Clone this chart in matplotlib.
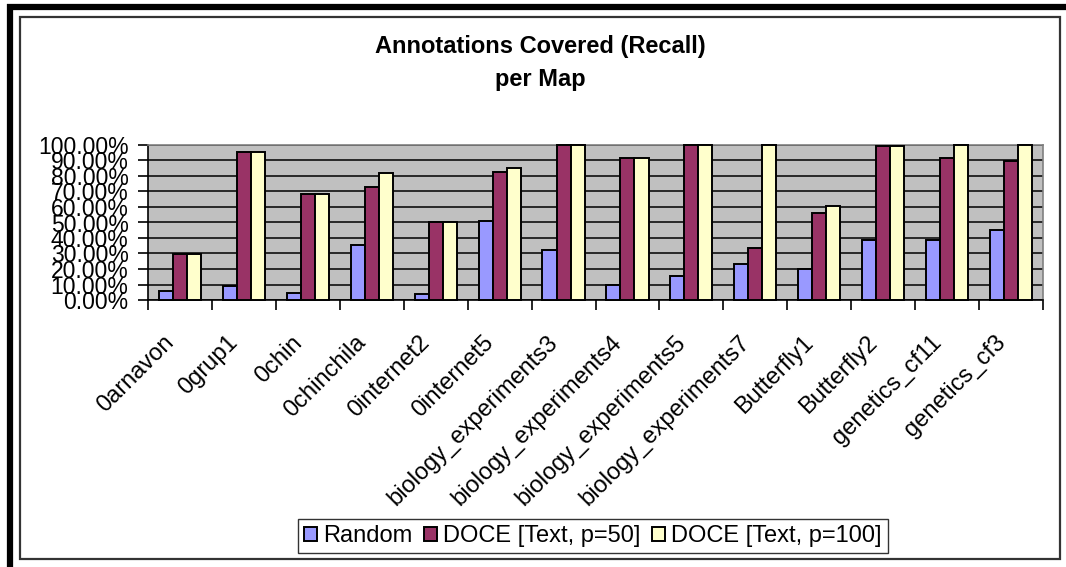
import numpy as np
import matplotlib.pyplot as plt
from matplotlib.lines import Line2D
from matplotlib.patches import Rectangle, Patch
from matplotlib.transforms import ScaledTranslation

plt.rcParams['font.family'] = ['Liberation Sans', 'DejaVu Sans']

maps = ['0arnavon', '0grup1', '0chin', '0chinchila', '0internet2', '0internet5',
        'biology_experiments3', 'biology_experiments4', 'biology_experiments5',
        'biology_experiments7', 'Butterfly1', 'Butterfly2', 'genetics_cf11', 'genetics_cf3']
random_vals = [6, 9.2, 4.5, 35.7, 4.1, 51.2, 32.3, 9.5, 15.3, 23.2, 19.8, 38.7, 38.7, 45]
doce50 = [30, 95.3, 68.2, 72.9, 50.5, 82.6, 100, 91.6, 100, 33.5, 55.9, 99.1, 91.6, 89.9]
doce100 = [30, 95.3, 68.2, 81.9, 50.5, 85, 100, 91.6, 100, 100, 60.9, 99.1, 100, 100]
series_names = ['Random', 'DOCE [Text, p=50]', 'DOCE [Text, p=100]']
colors = ['#9999FF', '#993366', '#FFFFCC']

W, H = 1066, 567
fig = plt.figure(figsize=(W / 100, H / 100), dpi=100)

# outer frame (thick top/left) and chart area border
fig.add_artist(Line2D([9.5 / W, 9.5 / W], [0, 1 - 4 / H], color='black', lw=4.5,
                      transform=fig.transFigure, solid_capstyle='butt'))
fig.add_artist(Line2D([7 / W, 1], [1 - 7 / H, 1 - 7 / H], color='black', lw=4.5,
                      transform=fig.transFigure, solid_capstyle='butt'))
fig.add_artist(Rectangle((19.5 / W, 1 - 559 / H), (1060 - 19.5) / W, (559 - 16.5) / H,
                         transform=fig.transFigure, fill=False, edgecolor='#333333', lw=1.6))

ax = fig.add_axes([148 / W, 1 - 300 / H, (1043 - 148) / W, (300 - 145) / H])
ax.set_facecolor('#C0C0C0')

x = np.arange(len(maps))
bw = 0.22
for i, (vals, name, c) in enumerate(zip([random_vals, doce50, doce100], series_names, colors)):
    ax.bar(x + (i - 1) * bw, np.array(vals) / 100, width=bw, color=c, edgecolor='black',
           linewidth=1.4, label=name, zorder=3, clip_on=False)

ax.set_xlim(-0.5, len(maps) - 0.5)
ax.set_ylim(0, 1)
yt = np.arange(0, 1.01, 0.1)
ax.set_yticks(yt)
ax.set_yticklabels(['%.2f%%' % (v * 100) for v in yt], fontsize=16.5)
ax.yaxis.grid(True, color='black', lw=1.1, zorder=1)
ax.set_axisbelow(True)

ax.set_xticks(x)
ax.set_xticklabels(maps, rotation=45, ha='right', rotation_mode='anchor', fontsize=17)
ax.tick_params(axis='x', which='major', length=0, pad=14)
ax.set_xticks(np.arange(-0.5, len(maps), 1), minor=True)
ax.tick_params(axis='x', which='minor', length=7, width=1.2, direction='out')
ax.tick_params(axis='y', length=7, width=1.2, direction='out', pad=7)
shift = ScaledTranslation(-0.17, -0.12, fig.dpi_scale_trans)
for lab in ax.get_xticklabels():
    lab.set_transform(lab.get_transform() + shift)

for s in ['top', 'right']:
    ax.spines[s].set_color('#808080')
    ax.spines[s].set_linewidth(1.2)
ax.spines['left'].set_linewidth(1.2)
ax.spines['bottom'].set_linewidth(1.2)

fig.text(540 / W, 1 - 63 / H, 'Annotations Covered (Recall)\nper Map', ha='center', va='center',
         fontsize=17, fontweight='bold', linespacing=1.6)

handles = [Patch(facecolor=c, edgecolor='black', lw=1.4) for c in colors]
fig.legend(handles, series_names, loc='center', bbox_to_anchor=(593 / W, 1 - 536 / H),
           ncol=3, fontsize=17, frameon=True, fancybox=False, edgecolor='black',
           handlelength=0.55, handleheight=0.55, handletextpad=0.25, columnspacing=0.5,
           borderpad=0.25, borderaxespad=0)

fig.savefig('out.png', dpi=100)
